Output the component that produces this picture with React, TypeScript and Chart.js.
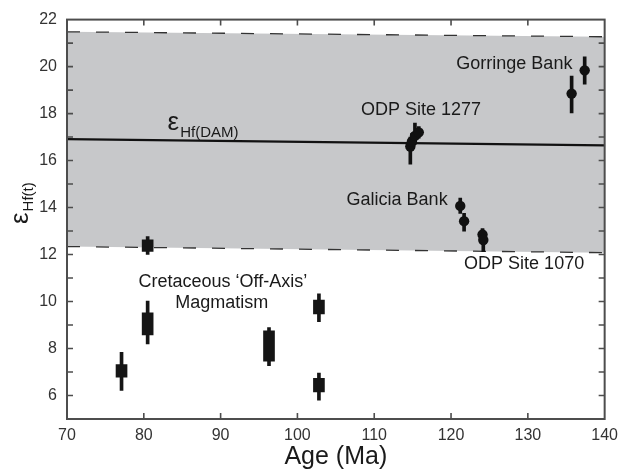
import React, { useEffect, useRef } from 'react';
import { Chart, registerables } from 'chart.js';

Chart.register(...registerables);

// ---- Data ----
const circleAges = [135.7, 137.4, 114.7, 114.9, 115.3, 115.8, 121.2, 121.7, 124.1, 124.2];
const circleEps = [18.85, 19.84, 16.6, 16.8, 17.05, 17.2, 14.07, 13.42, 12.85, 12.62];
const circleErrLo = [18.03, 19.25, 15.85, 16.45, 16.7, 16.95, 13.75, 13.0, 12.5, 12.12];
const circleErrHi = [19.6, 20.42, 17.0, 17.15, 17.6, 17.45, 14.4, 13.75, 13.1, 12.9];

const boxAges = [77.1, 80.5, 80.5, 96.3, 102.8, 102.8];
const boxLo = [6.78, 12.13, 8.58, 7.46, 9.47, 6.15];
const boxHi = [7.32, 12.63, 9.52, 8.75, 10.06, 6.73];
const boxErrLo = [6.22, 12.0, 8.2, 7.27, 9.14, 5.8];
const boxErrHi = [7.84, 12.76, 10.02, 8.89, 10.33, 6.95];

const bandAges = [70, 140];
const bandUpper = [21.48, 21.27];
const bandLower = [12.34, 12.08];
const damEps = [16.91, 16.65];

const xTickValues = [70, 80, 90, 100, 110, 120, 130, 140];
const yTickValues = [6, 8, 10, 12, 14, 16, 18, 20, 22];

const noteTexts = ['Gorringe Bank', 'ODP Site 1277', 'Galicia Bank', 'ODP Site 1070', 'Cretaceous ‘Off-Axis’', 'Magmatism'];
const noteAges = [135.8, 116.08, 106.4, 121.7, 90.29, 90.16];
const noteEps = [20.1, 18.16, 14.33, 11.58, 10.82, 9.95];
const noteAlign: CanvasTextAlign[] = ['right', 'center', 'left', 'left', 'center', 'center'];

const damLabelAge = 83.1;
const damLabelEps = 17.32;

const FONT = '"Liberation Sans", Arial, Helvetica, sans-serif';

const decorPlugin = {
  id: 'decor',
  afterDraw(chart: any) {
    const { ctx, chartArea: ca, scales } = chart;
    const xs = scales.x;
    const ys = scales.y;
    ctx.save();
    // frame
    ctx.strokeStyle = '#4d4d4d';
    ctx.lineWidth = 2;
    ctx.strokeRect(ca.left, ca.top, ca.right - ca.left, ca.bottom - ca.top);
    // inward ticks
    ctx.lineWidth = 1.6;
    const tl = 6;
    ctx.beginPath();
    for (let v = 80; v <= 130; v += 10) {
      const px = xs.getPixelForValue(v);
      ctx.moveTo(px, ca.bottom);
      ctx.lineTo(px, ca.bottom - tl);
      ctx.moveTo(px, ca.top);
      ctx.lineTo(px, ca.top + tl);
    }
    for (let v = 6; v <= 21; v += 1) {
      const py = ys.getPixelForValue(v);
      ctx.moveTo(ca.left, py);
      ctx.lineTo(ca.left + tl, py);
      ctx.moveTo(ca.right, py);
      ctx.lineTo(ca.right - tl, py);
    }
    ctx.stroke();

    // annotations
    ctx.fillStyle = '#1a1a1a';
    ctx.font = `18px ${FONT}`;
    ctx.textBaseline = 'middle';
    for (let i = 0; i < noteTexts.length; i++) {
      ctx.textAlign = noteAlign[i];
      ctx.fillText(noteTexts[i], xs.getPixelForValue(noteAges[i]), ys.getPixelForValue(noteEps[i]));
    }

    // epsilon Hf(DAM) label
    ctx.textAlign = 'left';
    ctx.textBaseline = 'alphabetic';
    const ex = xs.getPixelForValue(damLabelAge);
    const ey = ys.getPixelForValue(damLabelEps);
    ctx.font = `26px ${FONT}`;
    ctx.fillText('ε', ex, ey);
    const ew = ctx.measureText('ε').width;
    ctx.font = `15px ${FONT}`;
    ctx.fillText('Hf(DAM)', ex + ew + 1, ey + 7);

    // y axis title (rotated)
    ctx.save();
    ctx.translate(28, 224);
    ctx.rotate(-Math.PI / 2);
    ctx.font = `26px ${FONT}`;
    ctx.fillText('ε', 0, 0);
    const ew2 = ctx.measureText('ε').width;
    ctx.font = `15px ${FONT}`;
    ctx.fillText('Hf(t)', ew2 + 1, 5);
    ctx.restore();

    ctx.restore();
  },
};

export default function App() {
  const ref = useRef<HTMLCanvasElement | null>(null);
  useEffect(() => {
    document.body.style.margin = '0';
    const canvas = ref.current;
    if (!canvas) return;

    const circleData = circleAges.map((a, i) => ({ x: a, y: circleEps[i] }));
    const circleWhiskers = circleAges.map((a, i) => ({ x: a, y: [circleErrLo[i], circleErrHi[i]] }));
    const boxes = boxAges.map((a, i) => ({ x: a, y: [boxLo[i], boxHi[i]] }));
    const boxWhiskers = boxAges.map((a, i) => ({ x: a, y: [boxErrLo[i], boxErrHi[i]] }));

    const chart = new Chart(canvas, {
      type: 'scatter',
      data: {
        datasets: [
          {
            type: 'scatter',
            data: circleData,
            pointRadius: 5.2,
            pointHoverRadius: 5.2,
            backgroundColor: '#111',
            borderWidth: 0,
            order: 1,
          } as any,
          {
            type: 'bar',
            data: circleWhiskers,
            backgroundColor: '#111',
            barThickness: 3,
            grouped: false,
            borderWidth: 0,
            order: 2,
          } as any,
          {
            type: 'bar',
            data: boxes,
            backgroundColor: '#151515',
            barThickness: 11,
            grouped: false,
            borderWidth: 0,
            order: 3,
          } as any,
          {
            type: 'bar',
            data: boxWhiskers,
            backgroundColor: '#151515',
            barThickness: 3,
            grouped: false,
            borderWidth: 0,
            order: 4,
          } as any,
          {
            type: 'line',
            data: bandAges.map((a, i) => ({ x: a, y: damEps[i] })),
            borderColor: '#111',
            borderWidth: 2.2,
            pointRadius: 0,
            fill: false,
            order: 5,
          } as any,
          {
            type: 'line',
            data: bandAges.map((a, i) => ({ x: a, y: bandUpper[i] })),
            borderColor: '#333',
            borderWidth: 1.3,
            borderDash: [13, 16],
            pointRadius: 0,
            fill: '+1',
            backgroundColor: '#c7c8ca',
            order: 7,
          } as any,
          {
            type: 'line',
            data: bandAges.map((a, i) => ({ x: a, y: bandLower[i] })),
            borderColor: '#333',
            borderWidth: 1.3,
            borderDash: [13, 16],
            pointRadius: 0,
            fill: false,
            order: 6,
          } as any,
        ],
      },
      options: {
        responsive: false,
        animation: false,
        layout: { padding: { top: 16, right: 18, left: 0, bottom: 0 } },
        plugins: {
          legend: { display: false },
          tooltip: { enabled: false },
        },
        scales: {
          x: {
            type: 'linear',
            min: 70,
            max: 140,
            offset: false,
            grid: { display: false, offset: false, drawTicks: false },
            border: { display: false },
            afterBuildTicks: (s: any) => {
              s.ticks = xTickValues.map((v) => ({ value: v }));
            },
            ticks: {
              color: '#333',
              font: { size: 16, family: FONT },
              padding: 7,
              maxRotation: 0,
              autoSkip: false,
            },
            title: {
              display: true,
              text: 'Age (Ma)',
              color: '#1a1a1a',
              font: { size: 25, family: FONT },
              padding: { top: 0, bottom: 3 },
            },
            afterFit: (s: any) => {
              s.height = 56;
            },
          },
          y: {
            type: 'linear',
            min: 5,
            max: 22,
            beginAtZero: false,
            grid: { display: false, drawTicks: false },
            border: { display: false },
            afterBuildTicks: (s: any) => {
              s.ticks = yTickValues.map((v) => ({ value: v }));
            },
            ticks: {
              color: '#333',
              font: { size: 16, family: FONT },
              padding: 10,
              autoSkip: false,
            },
            afterFit: (s: any) => {
              s.width = 67;
            },
          },
        },
      } as any,
      plugins: [decorPlugin],
    });
    return () => chart.destroy();
  }, []);

  return (
    <div style={{ position: 'absolute', left: 0, top: 0, width: 625, height: 475, background: '#fff' }}>
      <canvas ref={ref} width={625} height={475} />
    </div>
  );
}
